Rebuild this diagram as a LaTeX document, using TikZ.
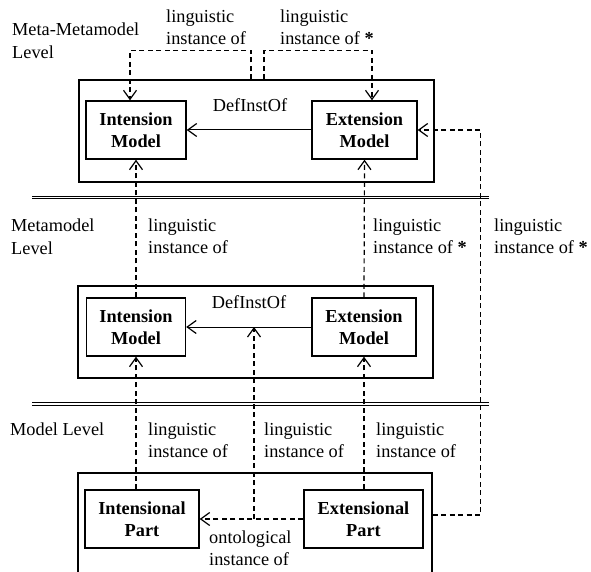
\documentclass[tikz,border=0pt]{standalone}
\usepackage{fontspec}
\setmainfont{Liberation Serif}
\usetikzlibrary{arrows.meta}
\begin{document}
\begin{tikzpicture}[x=1pt,y=-1pt,
  txt/.style={font=\fontsize{18.3}{22.5}\selectfont},
  note/.style={txt,anchor=north west,align=left,inner sep=0pt},
  element/.style={draw,line width=1.4pt,minimum height=58pt,align=center,
    inner sep=0pt,font=\fontsize{18.3}{22.5}\selectfont\bfseries},
  container/.style={draw,line width=1.4pt,inner sep=0pt},
  tip/.style={-{Straight Barb[length=9pt,width=13pt,line width=1.2pt]}},
  rel/.style={tip,line width=1pt},
  inst/.style={tip,line width=1.2pt,dash pattern=on 5pt off 3.5pt},
  levelsep/.style={double,double distance=1.8pt,line width=0.9pt}]
\useasboundingbox (0,0) rectangle (591,572);

% level containers
\node[container,minimum width=355pt,minimum height=102pt] (mmC) at (256.5,131) {};
\node[container,minimum width=355pt,minimum height=92pt] (mC) at (255.5,332) {};
\node[container,minimum width=354pt,minimum height=120pt] (bC) at (255,533) {};

% level separators
\draw[levelsep] (32,197.5) -- (489,197.5);
\draw[levelsep] (32,404) -- (489,404);

% elements
\node[element,minimum width=100pt] (mmI) at (136,130) {Intension\\Model};
\node[element,minimum width=105pt] (mmE) at (364.5,130) {Extension\\Model};
\node[element,minimum width=99pt] (mI) at (136,327) {Intension\\Model};
\node[element,minimum width=104pt] (mE) at (364,327) {Extension\\Model};
\node[element,minimum width=114pt] (iP) at (142,519) {Intensional\\Part};
\node[element,minimum width=119pt] (eP) at (363.5,519) {Extensional\\Part};

% level names
\node[note] (lvA) at (12,23) {Meta-Metamodel\\Level};
\node[note] (lvB) at (11,219) {Metamodel\\Level};
\node[note] (lvC) at (10,422.7) {Model Level};

% DefInstOf relations
\draw[rel] (mmE.west) -- (mmI.east);
\node[txt,anchor=base,inner sep=0pt] (dA) at (250,112) {DefInstOf};
\draw[rel] (mE.west) -- (mI.east);
\node[txt,anchor=base,inner sep=0pt] (dB) at (249,308) {DefInstOf};

% meta-metamodel self instantiation
\draw[inst] ([xshift=-5.5pt]mmC.north) -- ++(0,-29) -| ([xshift=-6pt]mmI.north);
\draw[inst] ([xshift=7.5pt]mmC.north) -- ++(0,-29) -| ([xshift=7.5pt]mmE.north);
\node[note] (tA) at (166,9.5) {linguistic\\instance of};
\node[note] (tB) at (280,9.5) {linguistic\\instance of \textbf{*}};

% metamodel to meta-metamodel
\draw[inst] (mI.north) -- (mmI.south);
\draw[inst] (mE.north) -- (mmE.south);
\node[note] (mA) at (148,218.5) {linguistic\\instance of};
\node[note] (mB) at (373,218.5) {linguistic\\instance of \textbf{*}};

% model to metamodel
\draw[inst] (mI.south |- iP.north) -- (mI.south);
\draw[inst] (mE.south |- eP.north) -- (mE.south);
\draw[inst] (eP.west) -- (iP.east);
\coordinate (oc) at (254,519);
\draw[inst] (oc) -- (oc |- mE.west);
\node[note] (bA) at (148,422.5) {linguistic\\instance of};
\node[note] (bB) at (264,422.5) {linguistic\\instance of};
\node[note] (bD) at (376,422.5) {linguistic\\instance of};
\node[note] (oA) at (209,530.5) {ontological\\instance of};

% model to meta-metamodel
\draw[inst] ([yshift=4pt]eP.east -| bC.east) -- ++(48,0) |- (mmE.east);
\node[note] (rA) at (494,218.5) {linguistic\\instance of \textbf{*}};
\end{tikzpicture}
\end{document}
